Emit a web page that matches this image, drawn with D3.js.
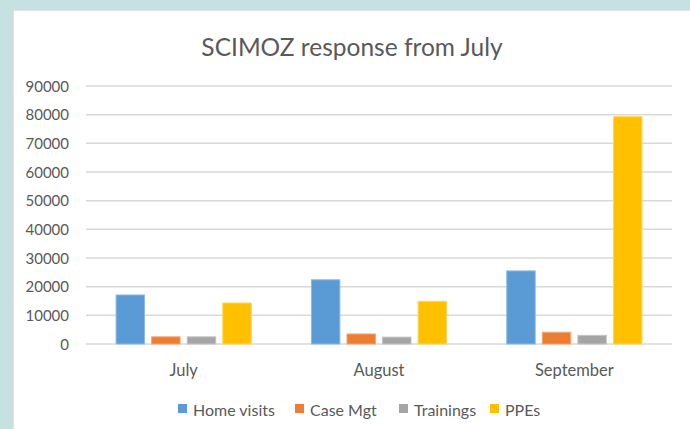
<!DOCTYPE html>
<html><head><meta charset="utf-8">
<script src="https://cdn.jsdelivr.net/npm/d3@7"></script>
<style>body{margin:0;background:#c6e1e1;}svg{display:block;}</style>
</head><body>
<svg id="c" width="690" height="429"></svg>
<script>
const categories = ["July", "August", "September"];
const seriesNames = ["Home visits", "Case Mgt", "Trainings", "PPEs"];
const homeVisits = [17100, 22400, 25500];
const caseMgt = [2500, 3500, 4100];
const trainings = [2500, 2400, 3000];
const ppes = [14300, 14900, 79300];
const yTicks = [0,10000,20000,30000,40000,50000,60000,70000,80000,90000];
const colors = ["#5B9BD5", "#ED7D31", "#A5A5A5", "#FFC000"];
const strokes = ["#8db9e3", "#f3a676", "#c3c3c3", "#ffd659"];
const seriesValues = [homeVisits, caseMgt, trainings, ppes];

const svg = d3.select("#c");
const font = "Lato, 'Open Sans', sans-serif";
// panel
svg.append("rect").attr("x",0).attr("y",0).attr("width",690).attr("height",429).attr("fill","#c6e1e1");
svg.append("rect").attr("x",13).attr("y",10).attr("width",690).attr("height",440).attr("fill","#fff").attr("stroke","#d9d9d9").attr("stroke-width",1.5);

const m = {l:86, r:672, t:86, b:344};
const x0 = d3.scaleBand().domain(categories).range([m.l, m.r]).padding(0);
const bw = x0.bandwidth();
const x1 = d3.scaleBand().domain(seriesNames).range([bw*0.154, bw*0.846]).paddingInner(0.2);
const y = d3.scaleLinear().domain([0, 90000]).range([m.b, m.t]);

// gridlines
svg.append("g").selectAll("line").data(yTicks).join("line")
  .attr("x1", m.l).attr("x2", m.r)
  .attr("y1", d=>y(d)).attr("y2", d=>y(d))
  .attr("stroke","#d9d9d9").attr("stroke-width",1.5);

// y labels
const yAxis = d3.axisLeft(y).tickValues(yTicks).tickSize(0).tickPadding(0).tickFormat(d3.format("d"));
const ga = svg.append("g").attr("transform",`translate(${m.l-17},0)`).call(yAxis);
ga.select(".domain").remove();
ga.selectAll("text").attr("font-family",font).attr("font-size",15).attr("fill","#595959").attr("dy","0.35em");

// bars
const groups = svg.append("g").selectAll("g").data(categories).join("g")
  .attr("transform", d=>`translate(${x0(d)},0)`);
groups.selectAll("rect").data((c,ci)=>seriesNames.map((s,si)=>({s, si, v: seriesValues[si][ci]}))).join("rect")
  .attr("x", d=>x1(d.s)).attr("width", x1.bandwidth())
  .attr("y", d=>y(d.v)).attr("height", d=>y(0)-y(d.v))
  .attr("fill", d=>colors[d.si]).attr("stroke", d=>strokes[d.si]).attr("stroke-width",1);

// x labels
const xAxis = d3.axisBottom(x0).tickSize(0).tickPadding(0);
const gx = svg.append("g").attr("transform",`translate(0,${m.b+26})`).call(xAxis);
gx.select(".domain").remove();
gx.selectAll("text").attr("font-family",font).attr("font-size",16.5).attr("fill","#595959").attr("dy","0.35em");

// title
svg.append("text").attr("x",352).attr("y",56).attr("text-anchor","middle")
  .attr("font-family",font).attr("font-size",24.5).attr("fill","#595959").text("SCIMOZ response from July");

// legend
const legendX = [178, 295, 399, 490];
const lg = svg.append("g").selectAll("g").data(seriesNames).join("g")
  .attr("transform",(d,i)=>`translate(${legendX[i]},404)`);
lg.append("rect").attr("width",9).attr("height",9).attr("fill",(d,i)=>colors[i]);
lg.append("text").attr("x",15).attr("y",6).attr("dy","0.35em").attr("font-family",font).attr("font-size",16).attr("fill","#595959").text(d=>d);
</script>
</body></html>
